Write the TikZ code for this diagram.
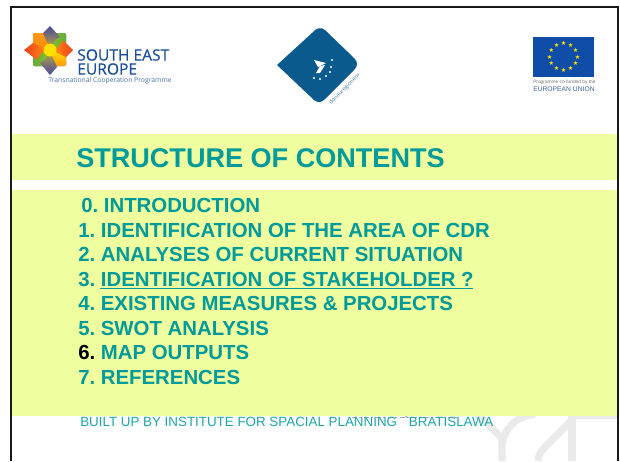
\documentclass[tikz,border=0pt]{standalone}
\usepackage{fontspec}
\setmainfont{Liberation Sans}
\newfontfamily\logofont{Open Sans}
\newfontfamily\seefont[FakeBold=0.35]{Open Sans}
\newfontfamily\plainfont{Liberation Sans}
\newfontfamily\symbolfont{DejaVu Sans}
\frenchspacing
\definecolor{bandyellow}{HTML}{EFFF9F}
\definecolor{tealtext}{HTML}{009A9A}
\definecolor{footteal}{HTML}{1FA5A8}
\definecolor{seeblue}{HTML}{1B4F9C}
\definecolor{dbblue}{HTML}{0B5A8E}
\definecolor{eublue}{HTML}{0F4DA8}
\definecolor{euyellow}{HTML}{FFE500}
\definecolor{leafgrey}{HTML}{EAEAEA}
\definecolor{kitepurple}{HTML}{4A4A9C}
\definecolor{kitered}{HTML}{F0401C}
\definecolor{kiteorange}{HTML}{FF9A10}
\definecolor{kitegreen}{HTML}{5FAE3C}
\definecolor{kiteyellow}{HTML}{FFE000}
\tikzset{
  x=0.75pt,y=-0.75pt,
  band/.style={fill=bandyellow,draw=none},
  titletext/.style={anchor=west,inner sep=0pt,text=tealtext,font=\fontsize{20.3}{22}\selectfont\bfseries},
  itemtext/.style={anchor=west,inner sep=0pt,text=tealtext,font=\fontsize{15.28}{17}\selectfont\bfseries},
  foot/.style={anchor=west,inner sep=0pt,text=footteal,font=\plainfont\fontsize{10.03}{12}\selectfont},
  frameline/.style={draw=black!90,line width=1.7pt},
  leaf/.style={draw=leafgrey,line width=5.5pt,fill=none},
  seeword/.style={anchor=west,inner sep=0pt,text=seeblue,font=\seefont\fontsize{11.7}{12}\selectfont},
  eustar/.style={text=euyellow,inner sep=0pt,font=\symbolfont\fontsize{4.6}{5}\selectfont},
  ruleline/.style={draw=tealtext,line width=1.3pt},
}
\begin{document}
\begin{tikzpicture}
\useasboundingbox (0,0) rectangle (620,461);
\fill[white] (0,0) rectangle (620,461);
% grey leaf shapes at lower right
\draw[leaf] (474,411) -- (502,438) -- (502,461);
\draw[leaf] (502,444) .. controls (504,430) and (515,416) .. (535,414);
\draw[leaf] (572,412) -- (572,461);
\draw[leaf] (571,421) -- (547,445) .. controls (541,451) and (538,455) .. (538,461);
\fill[leafgrey] (572,414) rectangle (618,419);
\draw[gray!70,line width=0.7pt,dash pattern=on 4pt off 1pt on 2pt off 2pt] (352,417) -- (458,417);
% bands
\fill[band] (11,134) rectangle (618,180);
\fill[band] (11,190) rectangle (618,416);
% frame
\draw[frameline] (11,461) -- (11,7) -- (618,7) -- (618,461);
% SEE logo
\fill[top color=kiteorange,bottom color=kiteorange!80!kitered,rounded corners=1pt] (33,33) rectangle (50,50);
\fill[left color=kitegreen!70!kiteyellow,right color=kitegreen,rounded corners=1pt] (50,33) rectangle (66,50);
\fill[left color=kitegreen,right color=kitegreen!70!kiteyellow,rounded corners=1pt] (33,50) rectangle (50,66);
\fill[top color=kiteyellow,bottom color=kiteorange,rounded corners=1pt] (50,50) rectangle (66,66);
\shade[top color=kitepurple,bottom color=kitepurple!35!kiteyellow] (50,26) -- (60,37) .. controls (54,40) and (52,44) .. (50,50) .. controls (49,44) and (46,41) .. (43,33) -- cycle;
\shade[bottom color=kitepurple,top color=kitepurple!35!kiteyellow] (50,75) -- (40,63) .. controls (46,60) and (48,56) .. (50,50) .. controls (51,56) and (54,59) .. (57,67) -- cycle;
\shade[left color=kitered,right color=kiteorange] (24,50) -- (33,43) .. controls (40,46) and (44,48) .. (50,50) .. controls (44,51) and (40,53) .. (37,60) -- cycle;
\shade[right color=kitered,left color=kiteorange] (73,50) -- (66,57) .. controls (60,54) and (56,52) .. (50,50) .. controls (56,49) and (60,47) .. (63,40) -- cycle;
\fill[kiteyellow] (50,50) circle (6.5);
\node[seeword] (see1) at (77,55) {SOUTH EAST};
\node[seeword] (see2) at (77,69) {EUROPE};
\node[anchor=west,inner sep=0pt,text=seeblue!80,font=\logofont\fontsize{5.1}{6}\selectfont] (see3) at (48,81) {Transnational Cooperation Programme};
% donau logo
\fill[dbblue] (312,33) .. controls (316,28) and (321,26) .. (326,31) -- (354,58) .. controls (358,62) and (358,66) .. (354,70) -- (325,99) .. controls (321,103) and (318,103) .. (314,100) -- (277,65) -- cycle;
\fill[white] (314,60) -- (326,63) -- (318,67) -- cycle;
\fill[white] (320,66) -- (325,65) -- (320,73) -- (316,73) -- cycle;
\foreach \p in {(332,60),(331,67),(330,72),(326,76),(320,79),(314,78)} \fill[white] \p circle (1.1);
\node[rotate=45,inner sep=0pt,text=dbblue!80,font=\logofont\fontsize{4.1}{5}\selectfont] (donau) at (345,89) {donauregionen+};
% EU flag
\fill[eublue] (533,37) rectangle (594,77);
\foreach \a in {0,30,...,330} \node[eustar] at ({563.5+14*cos(\a)},{57+13.5*sin(\a)}) {★};
\node[anchor=west,inner sep=0pt,text=black!55,font=\fontsize{3.6}{4}\selectfont] (eu1) at (533,82.5) {Programme co-funded by the};
\node[anchor=west,inner sep=0pt,text=eublue!60!gray,font=\fontsize{5.05}{5}\selectfont] (eu2) at (533,89.5) {EUROPEAN UNION};
% title
\node[titletext] (title) at (76,158) {STRUCTURE OF CONTENTS};
% items
\node[itemtext] (i0) at (81,205.4) {0. INTRODUCTION};
\node[itemtext] (i1) at (78,230.4) {1. IDENTIFICATION OF THE AREA OF CDR};
\node[itemtext] (i2) at (78,254.4) {2. ANALYSES OF CURRENT SITUATION};
\node[itemtext] (i3) at (78,279.4) {3. IDENTIFICATION OF STAKEHOLDER ?};
\draw[ruleline] (100,288.5) -- (473,288.5);
\node[itemtext] (i4) at (78,303.4) {4. EXISTING MEASURES \& PROJECTS};
\node[itemtext] (i5) at (78,328.4) {5. SWOT ANALYSIS};
\node[itemtext] (i6) at (78,352.4) {\textcolor{black}{6.} MAP OUTPUTS};
\node[itemtext] (i7) at (78,377.4) {7. REFERENCES};
\node[foot] (footer) at (80,422) {BUILT UP BY INSTITUTE FOR SPACIAL PLANNING\ \ `BRATISLAWA};
\end{tikzpicture}
\end{document}
